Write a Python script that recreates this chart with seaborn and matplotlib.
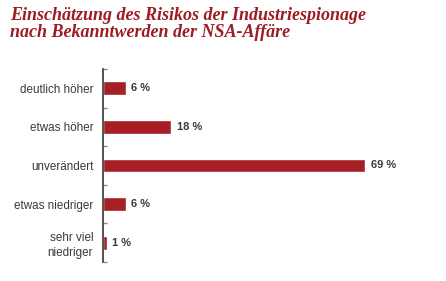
import numpy as np
import pandas as pd
import seaborn as sns
import matplotlib.pyplot as plt
from matplotlib.ticker import FixedLocator

# ---------- data ----------
categories = ['deutlich höher', 'etwas höher', 'unverändert', 'etwas niedriger', 'sehr viel\nniedriger']
values = [6, 18, 69, 6, 1]
value_labels = ['6 %', '18 %', '69 %', '6 %', '1 %']

title = 'Einschätzung des Risikos der Industriespionage\nnach Bekanntwerden der NSA-Affäre'

BAR_COLOR = '#a51f24'
TITLE_COLOR = '#9b1c22'
TEXT_COLOR = '#3a3a3a'

df = pd.DataFrame({'kategorie': categories, 'wert': values})

sns.set_style('white')
plt.rcParams['font.family'] = ['Liberation Sans', 'DejaVu Sans']

fig = plt.figure(figsize=(4.46, 2.81), dpi=100)
ax = fig.add_axes([103 / 446, 19 / 281, 343 / 446, 193 / 281])

sns.barplot(data=df, x='wert', y='kategorie', orient='h', color=BAR_COLOR,
            width=0.36, saturation=1, ax=ax)

ax.set_xlim(0, 343 / 3.8)
ax.set_ylim(len(categories) - 0.5, -0.5)

# value labels next to bars
for i, (v, lab) in enumerate(zip(values, value_labels)):
    ax.text(v + 1.4, i, lab, va='center', ha='left', fontsize=8,
            fontweight='bold', color=TEXT_COLOR)

# category labels at centres, small ticks at the boundaries
ax.set_yticks(range(len(categories)))
ax.set_yticklabels(categories, fontsize=8.4, color=TEXT_COLOR,
                   multialignment='right', linespacing=1.3)
ax.tick_params(axis='y', which='major', length=0, pad=7)
ax.yaxis.set_minor_locator(FixedLocator(np.arange(-0.5, len(categories), 1)))
ax.tick_params(axis='y', which='minor', direction='in', length=3, width=1,
               color='#888888', left=True)

ax.set_xticks([])
ax.set_xlabel('')
ax.set_ylabel('')
for side in ['top', 'right', 'bottom']:
    ax.spines[side].set_visible(False)
ax.spines['left'].set_color('#333333')
ax.spines['left'].set_linewidth(1.2)

fig.text(10 / 446, 1 - 7 / 281, title, ha='left', va='top', fontsize=13,
         fontweight='bold', fontstyle='italic', family=['Liberation Serif', 'DejaVu Serif'],
         color=TITLE_COLOR, linespacing=1.0)

fig.savefig('out.png', dpi=100, facecolor='white')
